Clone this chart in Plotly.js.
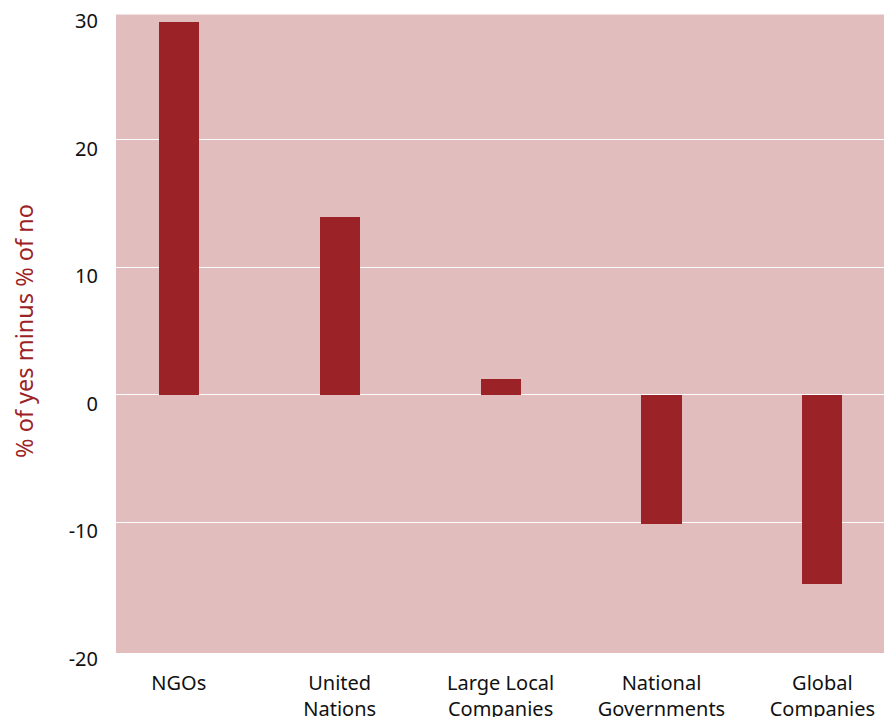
<!DOCTYPE html>
<html>
<head>
<meta charset="utf-8">
<script src="https://cdn.plot.ly/plotly-3.0.1.min.js"></script>
<style>html,body{margin:0;padding:0;background:#fff;}#chart{width:884px;height:717px;}</style>
</head>
<body>
<div id="chart"></div>
<script>
const categories = ["NGOs", "United<br>Nations", "Large Local<br>Companies", "National<br>Governments", "Global<br>Companies"];
const values = [29.2, 13.9, 1.2, -10.1, -14.8];
const yTickValues = [-20, -10, 0, 10, 20, 30];
const yTickLabels = ["-20", "-10", "0", "10", "20", "30"];

const trace = {
  type: "bar",
  x: [0, 1, 2, 3, 4],
  y: values,
  width: 0.249,
  marker: {color: "#9b2226"},
  hoverinfo: "skip"
};

const fontFamily = "Noto Sans, Open Sans, sans-serif";
const bgPink = "#e2bdbd";

const layout = {
  width: 884,
  height: 717,
  margin: {l: 116, r: 0, t: 11.6, b: 67.3},
  paper_bgcolor: "#ffffff",
  plot_bgcolor: bgPink,
  font: {family: fontFamily, size: 20, color: "#111111"},
  showlegend: false,
  bargap: 0,
  xaxis: {
    range: [-0.39, 4.383],
    tickvals: [0, 1, 2, 3, 4],
    ticktext: categories,
    showgrid: false,
    zeroline: false,
    showline: false,
    ticks: "",
    ticklabelstandoff: 19,
    fixedrange: true
  },
  yaxis: {
    range: [-20, 30],
    tickvals: yTickValues,
    ticktext: yTickLabels,
    showgrid: true,
    gridcolor: "#ffffff",
    gridwidth: 1.3,
    zeroline: true,
    zerolinecolor: "#ffffff",
    zerolinewidth: 1.3,
    showline: false,
    ticks: "",
    ticklabelstandoff: 17,
    ticklabelshift: 9,
    title: {text: "% of yes minus % of no", font: {color: "#9b2226", size: 23.5}, standoff: 28},
    fixedrange: true
  },
  shapes: [
    {type: "rect", xref: "paper", yref: "paper", x0: 0, x1: 1, y0: -0.0047, y1: 0,
     fillcolor: bgPink, line: {width: 0}, layer: "below"},
    {type: "rect", xref: "paper", yref: "paper", x0: 0, x1: 1, y0: 0.99624, y1: 1.001,
     fillcolor: "#ffffff", line: {width: 0}, layer: "below"}
  ]
};

Plotly.newPlot("chart", [trace], layout, {displayModeBar: false, staticPlot: true});
</script>
</body>
</html>
